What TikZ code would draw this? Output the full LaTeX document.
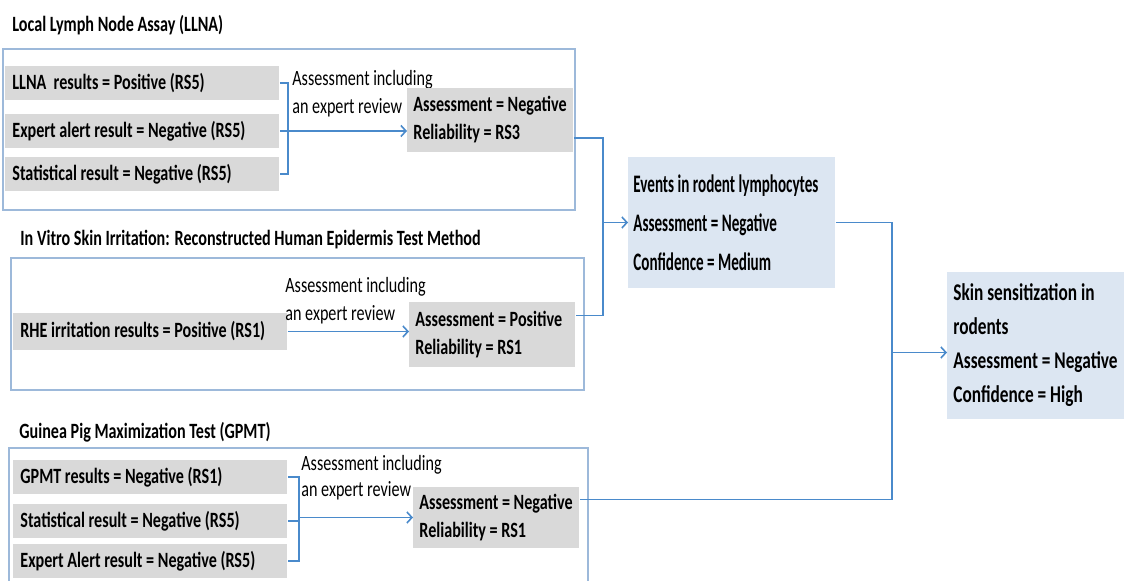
\documentclass[tikz,border=0pt]{standalone}
\usepackage{fontspec}
\setmainfont{Carlito}[FakeStretch=0.74]
\newfontfamily\evfont{Carlito}[FakeStretch=0.6]
\newfontfamily\skfont{Carlito}[FakeStretch=0.72]
\usetikzlibrary{arrows.meta}
\definecolor{boxgray}{HTML}{D9D9D9}
\definecolor{paleblue}{HTML}{DCE6F2}
\definecolor{linkblue}{HTML}{4A8ACB}
\definecolor{framecol}{HTML}{9DB9DA}
\tikzset{
  plainspace/.style={execute at begin node={\spaceskip=0pt \xspaceskip=0pt \hyphenpenalty=10000}},
  title/.style={anchor=west, inner sep=0pt, font=\fontsize{10.9}{14}\selectfont\bfseries},
  resbox/.style={anchor=west, fill=boxgray, text width=130pt, inner xsep=3.5pt, plainspace,
    minimum height=17pt, align=left, font=\fontsize{10.9}{14}\selectfont\bfseries},
  notebox/.style={anchor=west, inner sep=1pt, align=left, font=\fontsize{10.9}{14}\selectfont},
  asmbox/.style={anchor=west, fill=boxgray, text width=77pt, inner xsep=3pt, plainspace,
    minimum height=32pt, align=left, font=\fontsize{10.9}{14}\selectfont\bfseries},
  eventbox/.style={anchor=west, fill=paleblue, text width=98.5pt, inner xsep=2.5pt, plainspace,
    minimum height=65.5pt, align=left, font=\evfont\fontsize{12.6}{19.5}\selectfont\bfseries},
  skinbox/.style={anchor=west, fill=paleblue, text width=82.5pt, inner xsep=3pt, plainspace,
    minimum height=73.5pt, align=left, font=\skfont\fontsize{12}{17}\selectfont\bfseries},
  frame/.style={draw=framecol, line width=0.7pt},
  link/.style={draw=linkblue, line width=0.8pt},
}
\begin{document}
\begin{tikzpicture}[x=0.5pt, y=-0.5pt, >={Straight Barb[length=2.5pt,width=5.5pt]}]
    \useasboundingbox (0,0) rectangle (1124,581);
    % panels
    \draw[frame] (3,49) rectangle (575,210);
    \draw[frame] (11,258) rectangle (584,390);
    \draw[frame] (9,581) |- (588,448) -- (588,581);
    \node[title] (t1) at (12,25) {Local Lymph Node Assay (LLNA)};
    \node[title] (t2) at (20,240) {In Vitro Skin Irritation: Reconstructed Human Epidermis Test Method};
    \node[title] (t3) at (19,432) {Guinea Pig Maximization Test (GPMT)};
    % LLNA
    \node[resbox] (llna) at (5,83) {LLNA\ \ results = Positive (RS5)};
    \node[resbox] (alert1) at (5,131) {Expert alert result = Negative (RS5)};
    \node[resbox] (stat1) at (5,174) {Statistical result = Negative (RS5)};
    \node[notebox] (note1) at (290,94) {Assessment including\\an expert review};
    \node[asmbox] (asm1) at (407,120) {Assessment = Negative\\Reliability = RS3};
    \draw[link] (llna.east) -- ++(8,0) |- (stat1.east);
    \draw[link, ->] (alert1.east) -- (alert1.east -| asm1.west);
    % RHE
    \node[resbox, minimum height=18.5pt] (rhe) at (13,331.5) {RHE irritation results = Positive (RS1)};
    \node[notebox] (note2) at (283,301) {Assessment including\\an expert review};
    \node[asmbox, minimum height=32.5pt] (asm2) at (409,334.5) {Assessment = Positive\\Reliability = RS1};
    \draw[link, ->] (rhe.east) -- (rhe.east -| asm2.west);
    % GPMT
    \node[resbox, minimum height=16.5pt] (gpmt) at (13,477) {GPMT results = Negative (RS1)};
    \node[resbox, minimum height=16.5pt] (stat3) at (13,521) {Statistical result = Negative (RS5)};
    \node[resbox, minimum height=16.5pt] (alert3) at (13,561) {Expert Alert result = Negative (RS5)};
    \node[notebox, font=\fontsize{10.9}{13}\selectfont] (note3) at (299,478) {Assessment including\\an expert review};
    \node[asmbox, minimum height=29.5pt] (asm3) at (413,517.5) {Assessment = Negative\\Reliability = RS1};
    \coordinate (b3) at (299,0);
    \draw[link] (gpmt.east) -| (b3 |- alert3.east) -- (alert3.east);
    \draw[link] (stat3.east) -- (b3 |- stat3.east);
    \draw[link, ->] (b3 |- asm3.west) -- (asm3.west);
    % summaries
    \node[eventbox] (events) at (628,222.5) {Events in rodent lymphocytes\\Assessment = Negative\\Confidence = Medium};
    \node[skinbox] (skin) at (947,345.5) {Skin sensitization in\\rodents\\Assessment = Negative\\Confidence = High};
    \coordinate (j1) at (603,0);
    \coordinate (j2) at (892,0);
    \coordinate (o1) at ([yshift=-9pt]asm1.east);
    \coordinate (o2) at ([yshift=9.5pt]asm2.east);
    \coordinate (o3) at ([yshift=9pt]asm3.east);
    \draw[link] (o1) -| (j1 |- o2) -- (o2);
    \draw[link, ->] (j1 |- events.west) -- (events.west);
    \draw[link] (events.east) -| (j2 |- o3) -- (o3);
    \draw[link, ->] (j2 |- skin.west) ++(0,7) -- ([yshift=-3.5pt]skin.west);
\end{tikzpicture}
\end{document}
